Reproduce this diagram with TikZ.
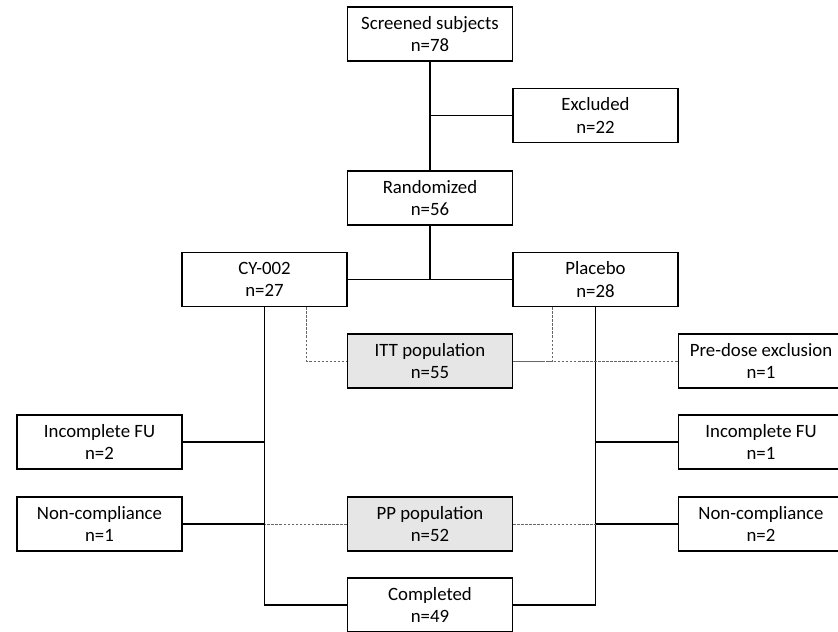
\documentclass[tikz,border=0pt]{standalone}
\usepackage{fontspec}
\setmainfont{Carlito}
\usepackage{xcolor}
\definecolor{popgray}{HTML}{E6E6E6}

\begin{document}
\begin{tikzpicture}[
  line width=0.8pt,  box/.style={draw,fill=white,minimum width=3.3cm,minimum height=1.08cm,inner sep=0pt,align=center,font=\fontsize{10.7}{12.9}\selectfont},  popbox/.style={box,fill=popgray},  dotline/.style={line width=0.4pt,dash pattern=on 1.5pt off 0.8pt,black!60}
]
  \useasboundingbox (0,0) rectangle (16.760,-12.640);
  \node[box] (screen) at (8.600,-0.680) {Screened subjects\\n=78};
  \node[box] (excl) at (11.910,-2.310) {Excluded\\n=22};
  \node[box] (rand) at (8.600,-3.960) {Randomized\\n=56};
  \node[box] (cy) at (5.290,-5.590) {CY-002\\n=27};
  \node[box] (plac) at (11.910,-5.590) {Placebo\\n=28};
  \node[popbox] (itt) at (8.600,-7.220) {ITT population\\n=55};
  \node[box] (predose) at (15.220,-7.220) {Pre-dose exclusion\\n=1};
  \node[box] (incl) at (1.990,-8.840) {Incomplete FU\\n=2};
  \node[box] (incr) at (15.220,-8.840) {Incomplete FU\\n=1};
  \node[box] (ncl) at (1.990,-10.480) {Non-compliance\\n=1};
  \node[popbox] (pp) at (8.600,-10.480) {PP population\\n=52};
  \node[box] (ncr) at (15.220,-10.480) {Non-compliance\\n=2};
  \node[box] (compl) at (8.600,-12.100) {Completed\\n=49};
  \draw (screen) -- (rand);
  \draw (screen |- excl) -- (excl);
  \draw (rand) -- (rand |- cy);
  \draw (cy) -- (plac);
  \draw (cy) |- (compl);
  \draw (plac) |- (compl);
  \draw (incl) -- (incl -| cy);
  \draw (ncl) -- (ncl -| cy);
  \draw (incr) -- (incr -| plac);
  \draw (ncr) -- (ncr -| plac);
  \draw[dotline] ([xshift=-0.82cm]cy.south east) |- (itt);
  \draw[dotline] ([xshift=0.80cm]plac.south west) |- (itt);
  \draw[dotline] (itt) -- (predose);
  \draw[dotline] (pp) -- (pp -| cy);
  \draw[dotline] (pp) -- (pp -| plac);
\end{tikzpicture}
\end{document}
